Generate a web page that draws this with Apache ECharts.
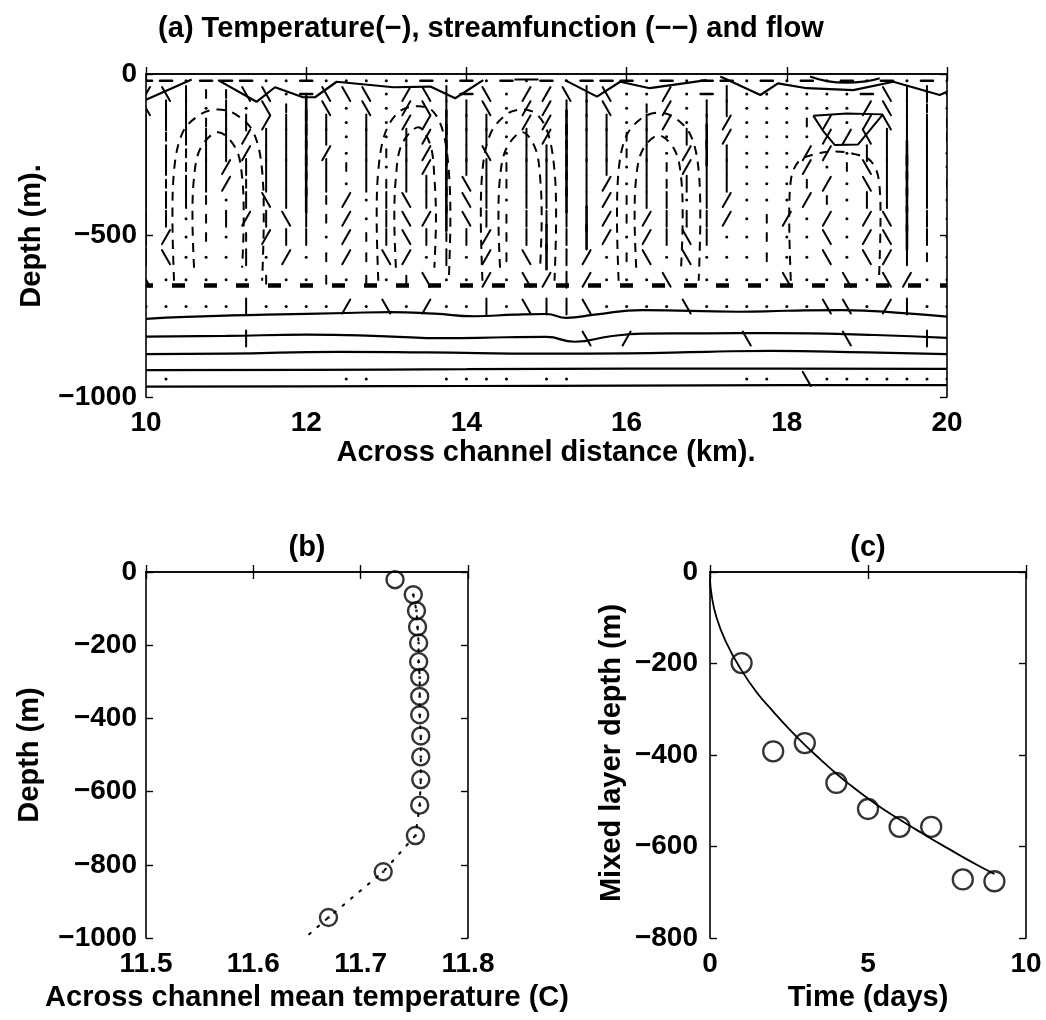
<!DOCTYPE html>
<html><head><meta charset="utf-8">
<script src="https://cdn.jsdelivr.net/npm/echarts@6/dist/echarts.min.js"></script>
<style>html,body{margin:0;padding:0;background:#fff}#c{width:1046px;height:1020px}</style>
</head><body><div id="c"></div>
<script>
// ================= DATA =================
const flowDepths = [-21,-62,-106,-150,-194,-245,-288,-340,-390,-448,-505,-567,-637,-720,-819,-944];
const flowCols = [10,10.25,10.5,10.75,11,11.25,11.5,11.75,12,12.25,12.5,12.75,13,13.25,13.5,13.75,14,14.25,14.5,14.75,
                  15,15.25,15.5,15.75,16,16.25,16.5,16.75,17,17.25,17.5,17.75,18,18.25,18.5,18.75,19,19.25,19.5,19.75,20];
const flowRows = [
  "--.- --.. -... ..-. -.-. -.-- -.-. --.- .-.- .-.- .",
  "/b|: :bb. -bbb ./b| -b./ /b|b ../. -|.. .... -b|| .",
  "b||. |.b: Ib.b ./b| |b./ /||b .:/. ||.. .... /b|: .",
  "|||: ||/| I|.| .//I ||./ /I|| .|/. |/.. .:/. /b|| :",
  "|:|| |/|| I|.| .|/I ||.| /I|| :|.| I/.. ..// b||| :",
  "||:| |/|| I/.| :|/I |b.| |I|| :|./ I|.. .//. ||I| .",
  "||:| /||| I|:| .|/I ||:| |I|| .|:/ ||.. ./.: b|I| .",
  "|:|| /:|| I|.| :||I b|:| |I|/ .|:| ||.. .:/. b|I| :",
  "|||: .|b| I:/. |b|I b|.| |I|/ :||. |/.. ./:. ||I| .",
  "||.: |/|b |:/. |b/I b|:| ||I/ :/|| |/.: /./. /bI| .",
  "|/.: .:/| |./: |b|: |/:| I|I/ ./|b |..: ..b. /bI| .",
  "|b.. .|./ .:/: b/.| ./:b I|/. :b.b ...: ..b. b/|: .",
  "b... ..:. .:.: .:b. ./.b /|/. ..b. .... b..b .b/. .",
  ".... .|.. ../. b./. .|.b ||b. ...b .... ..bb ./|. .",
  "0000 0|00 0000 0000 0000 00b0 /000 00b0 000b 000| 0",
  "0.00 0000 00.. 000. ...0 ..00 0000 00.. 0b.. .... ."
];
// temperature contours (solid)
const tempTop = [[10.0,-80],[10.57,-17],null,[10.9,-19],[11.38,-86],[11.61,-41],[11.96,-72],[12.11,-72],[12.38,-24],
  [13.09,-41],[13.55,-39],[13.86,-75],[14.21,-19],null,[14.6,-17],[14.9,-17],null,[15.23,-19],[15.63,-70],[15.92,-24],
  [16.29,-44],[17.0,-19],null,[17.17,-8],[17.67,-65],[17.89,-29],[18.25,-44],[18.83,-50],[19.33,-24],[19.91,-65],[20.0,-55]];
const tempArc = [[18.29,-8],[18.5,-22],[18.75,-27],[19.0,-22],[19.16,-13]];
const tempLens = [[18.33,-129],[18.75,-122],[19.2,-125],[19.05,-170],[18.89,-218],[18.6,-220],[18.45,-175],[18.33,-129]];
const tempDeep1 = [[10,-758],[10.5,-752],[11.5,-745],[12.5,-740],[13.05,-737],[13.6,-742],[14.1,-750],[14.6,-745],[15.0,-743],
  [15.25,-755],[15.6,-745],[16.2,-731],[17.4,-736],[18.0,-733],[18.7,-731],[19.5,-741],[20,-751]];
const tempDeep2 = [[10,-813],[11,-811],[12,-807],[13,-812],[13.7,-818],[14.5,-815],[15.0,-814],[15.35,-829],[15.8,-812],
  [16.2,-804],[17,-803],[17.8,-802],[19.1,-808],[20,-817]];
const tempDeep3 = [[10,-867],[11,-866],[12.4,-860],[13.5,-862],[15,-866],[16,-865],[17,-860],[17.8,-857],[19,-862],[20,-867]];
const tempDeep4 = [[10,-917],[12,-916],[14,-914],[16,-912],[18,-912],[20,-913]];
const tempDeep5 = [[10,-968],[12,-967],[14,-966],[16,-965],[18,-963],[20,-963]];
const mixedLayerLine = [[10,-655],[20,-655]];
// streamfunction contours (dashed), convective cells
const psiCell1 = [[10.35,-640],[10.33,-450],[10.35,-300],[10.46,-180],[10.68,-125],[10.9,-110],[11.12,-125],[11.34,-180],[11.45,-300],[11.47,-450],[11.45,-640]];
const psiCell1b = [[10.6,-600],[10.58,-450],[10.6,-320],[10.68,-230],[10.9,-180],[11.12,-230],[11.2,-320],[11.22,-450],[11.2,-600]];
const psiCell2 = [[12.9,-640],[12.88,-450],[12.9,-300],[12.99,-180],[13.17,-115],[13.4,-100],[13.58,-115],[13.71,-180],[13.78,-300],[13.8,-450],[13.78,-640]];
const psiCell2b = [[13.12,-600],[13.1,-450],[13.12,-320],[13.19,-220],[13.4,-165],[13.55,-220],[13.6,-320],[13.62,-450],[13.6,-600]];
const psiCell3 = [[14.2,-640],[14.18,-450],[14.2,-300],[14.3,-185],[14.5,-125],[14.7,-110],[14.88,-125],[15.02,-185],[15.1,-300],[15.12,-450],[15.1,-640]];
const psiCell3b = [[14.42,-600],[14.4,-450],[14.42,-320],[14.5,-230],[14.7,-180],[14.86,-230],[14.92,-320],[14.94,-450],[14.92,-600]];
const psiCell4 = [[15.9,-640],[15.88,-450],[15.9,-300],[16.0,-190],[16.2,-135],[16.4,-120],[16.6,-135],[16.8,-190],[16.9,-300],[16.92,-450],[16.9,-640]];
const psiCell4b = [[16.12,-600],[16.1,-450],[16.12,-320],[16.2,-235],[16.4,-190],[16.6,-235],[16.68,-320],[16.7,-450],[16.68,-600]];
const psiCell5 = [[18.05,-640],[18.03,-450],[18.05,-330],[18.15,-270],[18.35,-248],[18.6,-240],[18.85,-248],[19.05,-270],[19.15,-330],[19.17,-450],[19.15,-640]];

// Panel (b): across-channel mean temperature profile
const meanTemp  = [11.732,11.749,11.752,11.753,11.754,11.754,11.755,11.755,11.755,11.756,11.756,11.756,11.755,11.751,11.721,11.670];
const meanDepth = [-21,-62,-106,-150,-194,-245,-288,-340,-390,-448,-505,-567,-637,-720,-819,-944];
const profileTemp  = [11.749,11.752,11.753,11.754,11.754,11.755,11.755,11.755,11.756,11.756,11.756,11.755,11.751,11.721,11.670,11.648];
const profileDepth = [-62,-106,-150,-194,-245,-288,-340,-390,-448,-505,-567,-637,-720,-819,-944,-1000];

// Panel (c): mixed layer depth vs time
const mldDays  = [1,2,3,4,5,6,7,8,9];
const mldDepth = [-199,-392,-374,-461,-518,-557,-557,-672,-676];
const fitDays  = [0,0.05,0.2,0.5,1,1.5,2,2.5,3,3.5,4,4.5,5,5.5,6,6.5,7,7.5,8,8.5,9];
const fitDepth = [-15,-50,-98,-152,-215,-265,-305,-343,-378,-410,-441,-469,-495,-519,-541,-562,-583,-603,-623,-642,-660];

// ================= CHART =================
const FONT = '"Liberation Sans", Arial, sans-serif';
const CODES = '.:|I/b-';
const GLYPH = { ':':[0,-4,0,4,2], '|':[0,-8,0,8,2], 'I':[0,-12,0,12,2.6], '/':[-4,7,4,-7,2], 'b':[-4,-7,4,7,2], '-':[-6,0,6,0,2.6] };
const flowData = [];
flowRows.forEach((row, r) => {
  const s = row.replace(/ /g, '');
  for (let i = 0; i < flowCols.length; i++) {
    const c = s[i];
    if (!c || c === '0') continue;
    flowData.push([flowCols[i], flowDepths[r], CODES.indexOf(c)]);
  }
});
function renderFlow(params, api) {
  const p = api.coord([api.value(0), api.value(1)]);
  const code = CODES[api.value(2)];
  if (code === '.') return { type: 'circle', shape: { cx: p[0], cy: p[1], r: 1.5 }, style: { fill: '#000' } };
  const g = GLYPH[code];
  return { type: 'line', shape: { x1: p[0] + g[0], y1: p[1] + g[1], x2: p[0] + g[2], y2: p[1] + g[3] },
           style: { stroke: '#000', lineWidth: g[4], lineCap: 'round' } };
}
const minus = v => String(v).replace('-', '\u2212');
const tickLbl = { color: '#000', fontFamily: FONT, fontSize: 28, fontWeight: 'bold' };
function xPair(grid, min, max, interval, fmt) {
  return [
    { type: 'value', gridIndex: grid, position: 'bottom', min, max, interval,
      axisLine: { show: true, lineStyle: { color: '#000', width: 1.6 } },
      axisTick: { show: true, inside: true, length: 7, lineStyle: { color: '#000', width: 1.4 } },
      splitLine: { show: false }, axisLabel: Object.assign({ margin: 12, formatter: fmt }, tickLbl) },
    { type: 'value', gridIndex: grid, position: 'top', min, max, interval,
      axisLine: { show: true, onZero: false, lineStyle: { color: '#000', width: 1.6 } },
      axisTick: { show: true, inside: true, length: 7, lineStyle: { color: '#000', width: 1.4 } },
      splitLine: { show: false }, axisLabel: { show: false } }
  ];
}
function yPair(grid, min, max, interval, margin) {
  return [
    { type: 'value', gridIndex: grid, position: 'left', min, max, interval,
      axisLine: { show: true, onZero: false, lineStyle: { color: '#000', width: 1.6 } },
      axisTick: { show: true, inside: true, length: 7, lineStyle: { color: '#000', width: 1.4 } },
      splitLine: { show: false }, axisLabel: Object.assign({ margin, formatter: minus }, tickLbl) },
    { type: 'value', gridIndex: grid, position: 'right', min, max, interval,
      axisLine: { show: true, onZero: false, lineStyle: { color: '#000', width: 1.6 } },
      axisTick: { show: true, inside: true, length: 7, lineStyle: { color: '#000', width: 1.4 } },
      splitLine: { show: false }, axisLabel: { show: false } }
  ];
}
function contour(data, width, smooth) {
  return { type: 'line', xAxisIndex: 0, yAxisIndex: 0, data, showSymbol: false, symbol: 'none', smooth: smooth || false,
           connectNulls: false, lineStyle: { color: '#000', width: width || 2 }, silent: true, z: 3 };
}
function psi(data) {
  return { type: 'line', xAxisIndex: 0, yAxisIndex: 0, data, showSymbol: false, symbol: 'none', smooth: 0.35,
           lineStyle: { color: '#000', width: 2, type: [9, 7] }, silent: true, z: 2 };
}
function txt(text, x, y, size, rot) {
  return { type: 'text', x, y, rotation: rot || 0,
           style: { text, fill: '#000', font: 'bold ' + size + 'px ' + FONT, textAlign: 'center', textVerticalAlign: 'middle' } };
}
const chart = echarts.init(document.getElementById('c'), null, { renderer: 'canvas' });
chart.setOption({
  animation: false,
  backgroundColor: '#fff',
  grid: [
    { left: 146, top: 74, width: 801, height: 323 },
    { left: 146, top: 572, width: 322, height: 366 },
    { left: 710, top: 572, width: 316, height: 366 }
  ],
  xAxis: [].concat(xPair(0, 10, 20, 2), xPair(1, 11.5, 11.8, 0.1, v => v.toFixed(1)), xPair(2, 0, 10, 5)),
  yAxis: [].concat(yPair(0, -1000, 0, 500, 9), yPair(1, -1000, 0, 200, 9), yPair(2, -800, 0, 200, 12)),
  graphic: [
    txt('(a) Temperature(\u2212), streamfunction (\u2212\u2212) and flow', 491, 29, 29),
    txt('Depth (m).', 32, 236, 29, Math.PI / 2),
    txt('Across channel distance (km).', 546, 453, 29),
    txt('(b)', 307, 548, 29),
    txt('Depth (m)', 30, 755, 29, Math.PI / 2),
    txt('Across channel mean temperature (C)', 307, 998, 29),
    txt('(c)', 868, 548, 29),
    txt('Mixed layer depth (m)', 612, 753, 29, Math.PI / 2),
    txt('Time (days)', 868, 998, 29)
  ],
  series: [
    { type: 'custom', xAxisIndex: 0, yAxisIndex: 0, data: flowData, renderItem: renderFlow, encode: { x: 0, y: 1 }, clip: true, silent: true, z: 2 },
    psi(psiCell1), psi(psiCell1b), psi(psiCell2), psi(psiCell2b), psi(psiCell3), psi(psiCell3b),
    psi(psiCell4), psi(psiCell4b), psi(psiCell5),
    contour(tempTop, 2.2),
    contour(tempArc, 2.2, true),
    contour(tempLens, 2, false),
    contour(tempDeep1, 2.2, true),
    contour(tempDeep2, 2.2, true),
    contour(tempDeep3, 2.2, true),
    contour(tempDeep4, 2.2, true),
    contour(tempDeep5, 2.2, true),
    { type: 'line', xAxisIndex: 0, yAxisIndex: 0, data: mixedLayerLine, showSymbol: false, symbol: 'none', silent: true, z: 4,
      lineStyle: { color: '#000', width: 4.5, type: [13, 19], dashOffset: 6 } },
    { type: 'line', xAxisIndex: 2, yAxisIndex: 2, data: profileTemp.map((t, i) => [t, profileDepth[i]]), showSymbol: false, symbol: 'none',
      lineStyle: { color: '#000', width: 2, type: [2, 9], cap: 'round' }, silent: true, z: 2 },
    { type: 'scatter', xAxisIndex: 2, yAxisIndex: 2, data: meanTemp.map((t, i) => [t, meanDepth[i]]), symbol: 'circle', symbolSize: 17,
      itemStyle: { color: 'rgba(255,255,255,0)', borderColor: '#000', borderWidth: 2.4 }, silent: true, z: 3 },
    { type: 'scatter', xAxisIndex: 2, yAxisIndex: 2, data: meanTemp.slice(1).map((t, i) => [t, meanDepth[i + 1]]), symbol: 'circle', symbolSize: 3,
      itemStyle: { color: '#000' }, silent: true, z: 4 },
    { type: 'line', xAxisIndex: 4, yAxisIndex: 4, data: fitDays.map((t, i) => [t, fitDepth[i]]), showSymbol: false, symbol: 'none', smooth: true,
      lineStyle: { color: '#000', width: 1.8 }, silent: true, z: 2 },
    { type: 'scatter', xAxisIndex: 4, yAxisIndex: 4, data: mldDays.map((t, i) => [t, mldDepth[i]]), symbol: 'circle', symbolSize: 20,
      itemStyle: { color: 'rgba(255,255,255,0)', borderColor: '#000', borderWidth: 2.3 }, silent: true, z: 3 }
  ]
});
</script>
</body></html>
